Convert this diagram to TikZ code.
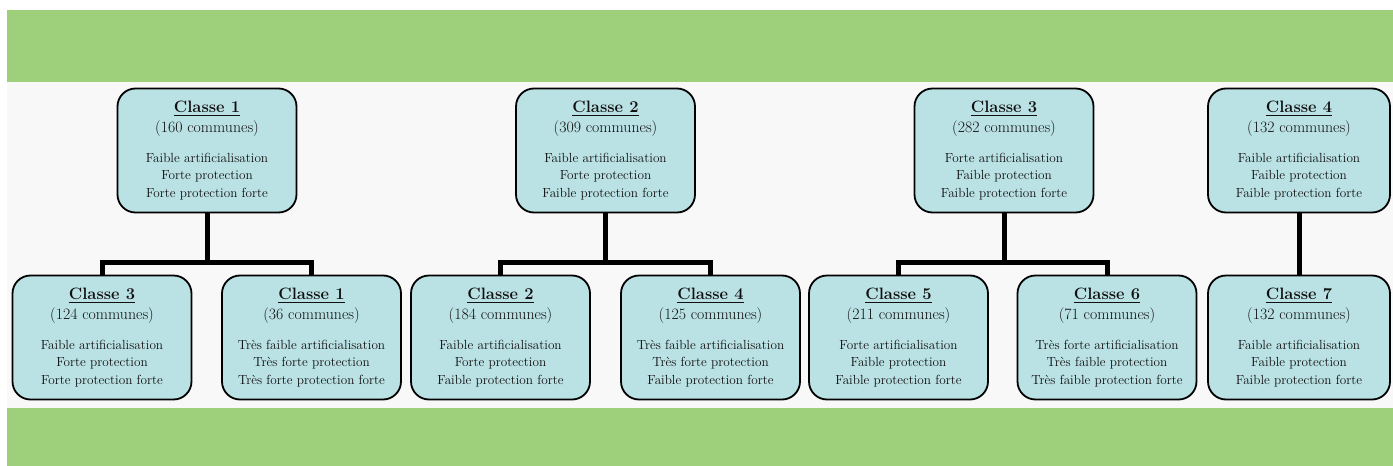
\documentclass[tikz,border=0pt]{standalone}
\usepackage{fontspec}
\usepackage{tikz}
\usepackage{xcolor}
\usetikzlibrary{positioning, calc}
\definecolor{vert}{HTML}{9ECF7A}
\definecolor{fond}{HTML}{F8F8F8}
\definecolor{cyan clair}{HTML}{BAE1E4}
\definecolor{encre}{HTML}{101010}
\newcommand{\titre}[1]{{\fontsize{16.5}{17.5}\selectfont\bfseries
  \vtop{\hbox{#1}\kern1.6pt\hrule height 1.2pt}}}
\newcommand{\nb}[1]{{\fontsize{15.8}{17.5}\selectfont (#1 communes)}}

\begin{document}
\begin{tikzpicture}
    [x=1pt, y=-1pt,
     classe/.style={rectangle, rounded corners=18pt, draw=black, line width=1.8pt,
                    fill=cyan clair, minimum width=179pt, minimum height=124pt,
                    inner sep=0pt, align=center, text=encre,
                    font=\fontsize{13.2}{17.5}\selectfont},
     large/.style={classe, minimum width=182pt},
     lien/.style={draw=black, line width=5pt, line join=miter}]
    % fond
    \useasboundingbox (0,0) rectangle (1393,466);
    \fill[white] (0,0) rectangle (1393,466);
    \fill[vert] (7,10) rectangle (1393,82);
    \fill[fond] (7,82) rectangle (1393,408);
    \fill[vert] (7,408) rectangle (1393,466);
    % niveau 1
    \node (T1) at (207,150.5) [classe] {\titre{Classe 1}\\[2pt] \nb{160}\\[12.5pt]
      Faible artificialisation\\ Forte protection\\ Forte protection forte};
    \node (T2) at (605.5,150.5) [classe] {\titre{Classe 2}\\[2pt] \nb{309}\\[12.5pt]
      Faible artificialisation\\ Forte protection\\ Faible protection forte};
    \node (T3) at (1004,150.5) [classe] {\titre{Classe 3}\\[2pt] \nb{282}\\[12.5pt]
      Forte artificialisation\\ Faible protection\\ Faible protection forte};
    \node (T4) at (1299,150.5) [large] {\titre{Classe 4}\\[2pt] \nb{132}\\[12.5pt]
      Faible artificialisation\\ Faible protection\\ Faible protection forte};
    % niveau 2
    \node (B1) at (102,337.5) [classe] {\titre{Classe 3}\\[2pt] \nb{124}\\[12.5pt]
      Faible artificialisation\\ Forte protection\\ Forte protection forte};
    \node (B2) at (311.5,337.5) [classe] {\titre{Classe 1}\\[2pt] \nb{36}\\[12.5pt]
      Très faible artificialisation\\ Très forte protection\\ Très forte protection forte};
    \node (B3) at (500.5,337.5) [classe] {\titre{Classe 2}\\[2pt] \nb{184}\\[12.5pt]
      Faible artificialisation\\ Forte protection\\ Faible protection forte};
    \node (B4) at (710.5,337.5) [classe] {\titre{Classe 4}\\[2pt] \nb{125}\\[12.5pt]
      Très faible artificialisation\\ Très forte protection\\ Faible protection forte};
    \node (B5) at (898.5,337.5) [classe] {\titre{Classe 5}\\[2pt] \nb{211}\\[12.5pt]
      Forte artificialisation\\ Faible protection\\ Faible protection forte};
    \node (B6) at (1107,337.5) [classe] {\titre{Classe 6}\\[2pt] \nb{71}\\[12.5pt]
      Très forte artificialisation\\ Très faible protection\\ Très faible protection forte};
    \node (B7) at (1299,337.5) [large] {\titre{Classe 7}\\[2pt] \nb{132}\\[12.5pt]
      Faible artificialisation\\ Faible protection\\ Faible protection forte};
    % liens
    \coordinate (J1) at (207,262);
    \coordinate (J2) at (605.5,262);
    \coordinate (J3) at (1004,262);
    \draw[lien] (T1.south) -- (J1);
    \draw[lien] (B1.north) |- (J1) -| (B2.north);
    \draw[lien] (T2.south) -- (J2);
    \draw[lien] (B3.north) |- (J2) -| (B4.north);
    \draw[lien] (T3.south) -- (J3);
    \draw[lien] (B5.north) |- (J3) -| (B6.north);
    \draw[lien] (T4.south) -- (B7.north);
\end{tikzpicture}
\end{document}
